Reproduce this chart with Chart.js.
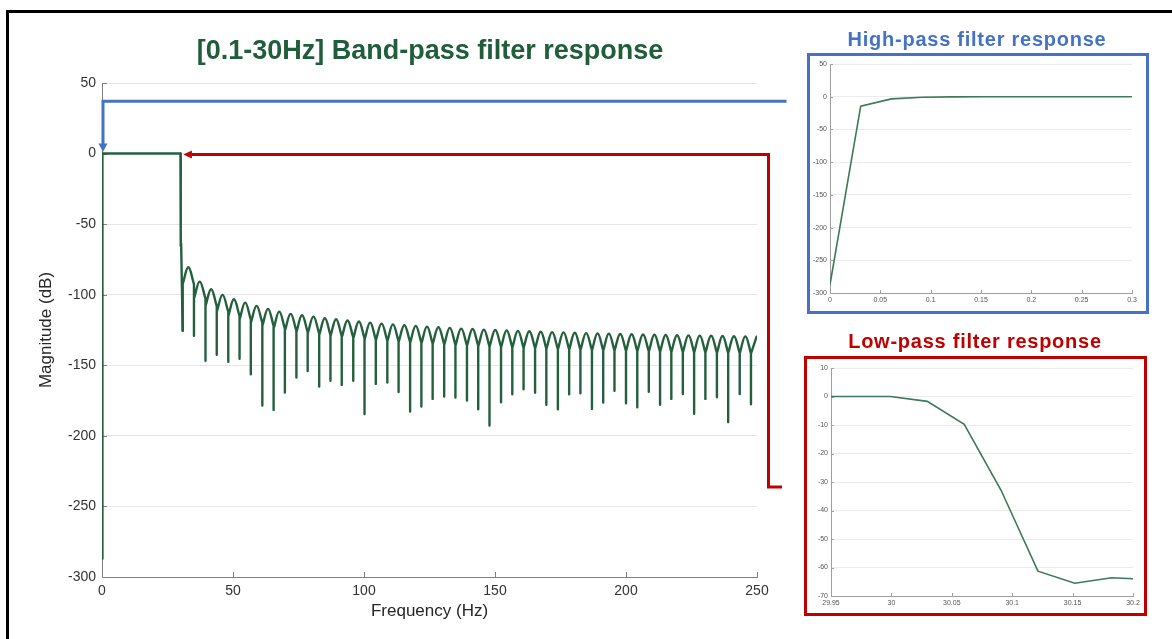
<!DOCTYPE html>
<html>
<head>
<meta charset="utf-8">
<title>Band-pass filter response</title>
<script src="https://cdn.jsdelivr.net/npm/chart.js@4.4.1/dist/chart.umd.min.js"></script>
<style>
  body { margin: 0; background: #fff; }
  #page { position: relative; width: 1172px; height: 639px; overflow: hidden; background: #fff;
          font-family: "Liberation Sans", Arial, sans-serif; }
  #frame { position: absolute; left: 6px; top: 10px; width: 1300px; height: 800px;
           border-top: 3px solid #000; border-left: 3px solid #000; }
  canvas { position: absolute; left: 0; top: 0; display: block; }
  .heading { position: absolute; text-align: center; font-weight: bold; white-space: nowrap; }
  #mainTitle { left: 180px; width: 500px; top: 35px; line-height: 30px; font-size: 27px; color: #205d3a; }
  #hpTitle { left: 777px; width: 400px; top: 27px; line-height: 24px; font-size: 20px; letter-spacing: 0.75px; color: #4472C4; }
  #lpTitle { left: 775px; width: 400px; top: 329px; line-height: 24px; font-size: 20px; letter-spacing: 0.75px; color: #C00000; }
  .inset { position: absolute; box-sizing: border-box; border: 3px solid; background: #fff; }
  #hpBox { left: 807px; top: 53px; width: 342px; height: 261px; border-color: #4472C4; }
  #lpBox { left: 804px; top: 356px; width: 343px; height: 260px; border-color: #C00000; }
</style>
</head>
<body>
<div id="page">
  <div id="frame"></div>
  <canvas id="mainChart" width="1172" height="639"></canvas>
  <div id="mainTitle" class="heading">[0.1-30Hz] Band-pass filter response</div>
  <div id="hpTitle" class="heading">High-pass filter response</div>
  <div id="lpTitle" class="heading">Low-pass filter response</div>
  <div id="hpBox" class="inset"><canvas id="hpChart" width="336" height="255"></canvas></div>
  <div id="lpBox" class="inset"><canvas id="lpChart" width="337" height="254"></canvas></div>
</div>
<script>
// ---- Response data (frequency in Hz, magnitude in dB) ----

// high-pass edge, first FFT bins
const hpHz = [0, 0.0305, 0.0610, 0.0916, 0.1221, 0.1526, 0.1831, 0.2136, 0.2441, 0.2747, 0.3052];
const hpDb = [-287, -14.5, -3.3, -0.8, -0.2, 0, 0, 0, 0, 0, 0];

// low-pass edge around 30 Hz
const lpHz = [29.9382, 29.9687, 29.9992, 30.0297, 30.0603, 30.0908, 30.1213, 30.1518, 30.1823, 30.2129];
const lpDb = [0, 0, 0, -1.7, -9.8, -32.9, -61.3, -65.5, -63.6, -64.2];

// stop band: null positions and depths
const nullHz = [
  30.8, 35.1, 39.5, 43.8, 48.2, 52.5, 56.8, 61.2, 65.5, 69.8,
  74.2, 78.5, 82.9, 87.2, 91.5, 95.9, 100.2, 104.5, 108.9, 113.2,
  117.6, 121.9, 126.2, 130.6, 134.9, 139.3, 143.6, 147.9, 152.3, 156.6,
  160.9, 165.3, 169.6, 174.0, 178.3, 182.6, 187.0, 191.3, 195.6, 200.0,
  204.3, 208.7, 213.0, 217.3, 221.7, 226.0, 230.3, 234.7, 239.0, 243.4,
  247.7
];
const nullDb = [
  -125.6, -129.1, -146.8, -142.6, -147.5, -145.4, -156.3, -178.5, -181.6, -169.3,
  -158.7, -154.0, -165.0, -161.0, -163.9, -161.0, -184.6, -163.2, -162.2, -169.0,
  -182.8, -179.2, -173.8, -172.1, -172.8, -175.0, -181.1, -192.7, -176.2, -170.5,
  -167.0, -169.4, -178.0, -181.1, -170.5, -169.8, -180.9, -176.4, -168.0, -176.9,
  -179.7, -168.7, -178.0, -173.8, -170.3, -184.4, -173.8, -172.6, -190.3, -170.3,
  -177.6
];
// side-lobe crest after each null
const lobePeakDb = [
  -80.5, -90.7, -96.1, -100.1, -103.2, -105.6, -107.9, -110.0, -112.0, -113.6,
  -114.5, -115.5, -116.7, -117.4, -118.3, -119.0, -119.8, -120.5, -121.0, -121.6,
  -122.1, -122.6, -123.0, -123.5, -124.0, -124.3, -124.7, -125.0, -125.3, -125.6,
  -125.9, -126.2, -126.5, -126.7, -127.0, -127.2, -127.4, -127.6, -127.8, -128.0,
  -128.2, -128.4, -128.5, -128.7, -128.8, -129.0, -129.1, -129.3, -129.4, -129.5,
  -129.7
];

// main axis ticks
const mainXTicks = [0, 50, 100, 150, 200, 250];
const mainYTicks = [50, 0, -50, -100, -150, -200, -250, -300];

const ARCH_DROP = 12;        // dB between a lobe crest and the foot of its arch
const GREEN = '#24603d';
const INSET_GREEN = '#3c7a58';

Chart.defaults.font.family = '"Liberation Sans", Arial, sans-serif';

const toPoints = (xs, ys) => xs.map((v, i) => ({ x: v, y: ys[i] }));

// pass band: HP edge, flat top, LP edge, down into the first null
const passband = toPoints(hpHz, hpDb).concat(toPoints(lpHz, lpDb), [{ x: nullHz[0], y: nullDb[0] }]);

// stop band: a spike per null, then the arch of the following lobe
const stopband = [];
lobePeakDb.forEach((peak, i) => {
  const left = nullHz[i];
  const right = nullHz[i + 1];
  const foot = peak - ARCH_DROP;
  const prevFoot = i > 0 ? lobePeakDb[i - 1] - ARCH_DROP : foot;
  stopband.push({ x: left, y: Math.max(foot, prevFoot) }, { x: left, y: nullDb[i] }, { x: left, y: null });

  const half = right !== undefined ? (right - left) / 2 : (left - nullHz[i - 1]) / 2;
  stopband.push({ x: left, y: foot }, { x: left + half, y: peak });
  if (right !== undefined) stopband.push({ x: right, y: foot });
  stopband.push({ x: right !== undefined ? right : left + half, y: null });
});

// ---- small tick marks drawn inside the axes ----
const inwardTicks = {
  id: 'inwardTicks',
  beforeDatasetsDraw(chart, args, opts) {
    const { ctx, chartArea: a, scales: { x, y } } = chart;
    ctx.save();
    ctx.strokeStyle = opts.color;
    ctx.lineWidth = 1;
    ctx.beginPath();
    x.ticks.forEach(t => {
      const px = Math.round(x.getPixelForValue(t.value)) + 0.5;
      ctx.moveTo(px, a.bottom);
      ctx.lineTo(px, a.bottom - opts.length);
    });
    y.ticks.forEach(t => {
      const py = Math.round(y.getPixelForValue(t.value)) + 0.5;
      ctx.moveTo(a.left, py);
      ctx.lineTo(a.left + opts.length, py);
    });
    ctx.stroke();
    ctx.restore();
  }
};

// ---- call-out arrows from the insets to the two band edges ----
const callouts = {
  id: 'callouts',
  afterDraw(chart) {
    const { ctx, scales: { x, y } } = chart;
    const zeroY = y.getPixelForValue(0);

    ctx.save();
    ctx.lineWidth = 3;
    ctx.lineJoin = 'miter';

    // high-pass: across the top, down onto 0 Hz
    const bx = x.getPixelForValue(0) + 1;
    const by = y.getPixelForValue(37);
    ctx.strokeStyle = ctx.fillStyle = '#4472C4';
    ctx.beginPath();
    ctx.moveTo(786.5, by);
    ctx.lineTo(bx, by);
    ctx.lineTo(bx, zeroY - 9);
    ctx.stroke();
    ctx.beginPath();
    ctx.moveTo(bx - 4.5, zeroY - 10);
    ctx.lineTo(bx + 4.5, zeroY - 10);
    ctx.lineTo(bx, zeroY - 1.5);
    ctx.closePath();
    ctx.fill();

    // low-pass: up the right side, left onto the 30 Hz corner
    const rx = x.getPixelForValue(30) + 2.8;
    const ry = zeroY + 1;
    ctx.strokeStyle = ctx.fillStyle = '#C00000';
    ctx.beginPath();
    ctx.moveTo(782, 487);
    ctx.lineTo(768.5, 487);
    ctx.lineTo(768.5, ry);
    ctx.lineTo(rx + 8, ry);
    ctx.stroke();
    ctx.beginPath();
    ctx.moveTo(rx + 8.5, ry - 4);
    ctx.lineTo(rx + 8.5, ry + 4);
    ctx.lineTo(rx, ry);
    ctx.closePath();
    ctx.fill();
    ctx.restore();
  }
};

// ---- Main chart ----
new Chart(document.getElementById('mainChart'), {
  type: 'line',
  data: {
    datasets: [
      { label: 'Pass band', data: passband, borderColor: GREEN, borderWidth: 2.4, pointRadius: 0, tension: 0,
        borderJoinStyle: 'round', borderCapStyle: 'round' },
      { label: 'Stop band', data: stopband, borderColor: GREEN, borderWidth: 2.4, pointRadius: 0, tension: 0.4,
        spanGaps: false, borderJoinStyle: 'round', borderCapStyle: 'round' }
    ]
  },
  options: {
    responsive: false,
    animation: false,
    events: [],
    layout: { padding: { left: 0, top: 83, right: 415, bottom: 0 } },
    plugins: {
      legend: { display: false },
      tooltip: { enabled: false },
      inwardTicks: { length: 5, color: '#808080' }
    },
    scales: {
      x: {
        type: 'linear', min: 0, max: 250,
        afterBuildTicks: s => { s.ticks = mainXTicks.map(v => ({ value: v })); },
        afterFit: s => { s.height = 62; },
        grid: { display: false, drawTicks: false },
        border: { color: '#808080' },
        ticks: { color: '#333', padding: 6, font: { size: 14 } },
        title: { display: true, text: 'Frequency (Hz)', color: '#262626', font: { size: 17 },
                 padding: { top: 0, bottom: 17.5 } }
      },
      y: {
        type: 'linear', min: -300, max: 50,
        afterBuildTicks: s => { s.ticks = mainYTicks.map(v => ({ value: v })); },
        afterFit: s => { s.width = 102; },
        grid: { color: '#e6e6e6', drawTicks: false },
        border: { color: '#808080' },
        ticks: { color: '#333', padding: 6, font: { size: 14 } },
        title: { display: true, text: 'Magnitude (dB)', color: '#262626', font: { size: 17 },
                 padding: { top: 36.5, bottom: 0 } }
      }
    }
  },
  plugins: [inwardTicks, callouts]
});

// ---- Zoomed insets ----
function insetChart(canvasId, points, xr, yr, box) {
  return new Chart(document.getElementById(canvasId), {
    type: 'line',
    data: {
      datasets: [{ data: points, borderColor: INSET_GREEN, borderWidth: 1.6, pointRadius: 0, tension: 0 }]
    },
    options: {
      responsive: false,
      animation: false,
      events: [],
      layout: { padding: { left: 0, top: box.top, right: box.right, bottom: 0 } },
      plugins: {
        legend: { display: false },
        tooltip: { enabled: false },
        inwardTicks: { length: 3, color: '#a0a0a0' }
      },
      scales: {
        x: {
          type: 'linear', min: xr[0], max: xr[1],
          afterFit: s => { s.height = box.xHeight; },
          grid: { display: false, drawTicks: false },
          border: { color: '#a0a0a0' },
          ticks: { stepSize: xr[2], color: '#555', padding: 3, font: { size: 7 },
                   callback: v => String(+v.toFixed(2)) }
        },
        y: {
          type: 'linear', min: yr[0], max: yr[1],
          afterFit: s => { s.width = box.yWidth; },
          grid: { color: '#ececec', drawTicks: false },
          border: { color: '#a0a0a0' },
          ticks: { stepSize: yr[2], color: '#555', padding: 3, font: { size: 7 } }
        }
      }
    },
    plugins: [inwardTicks]
  });
}

insetChart('hpChart', toPoints(hpHz, hpDb), [0, 0.3, 0.05], [-300, 50, 50],
           { top: 8, right: 14, yWidth: 20, xHeight: 18 });
insetChart('lpChart', toPoints(lpHz, lpDb), [29.95, 30.2, 0.05], [-70, 10, 10],
           { top: 9, right: 11, yWidth: 24, xHeight: 17 });
</script>
</body>
</html>
